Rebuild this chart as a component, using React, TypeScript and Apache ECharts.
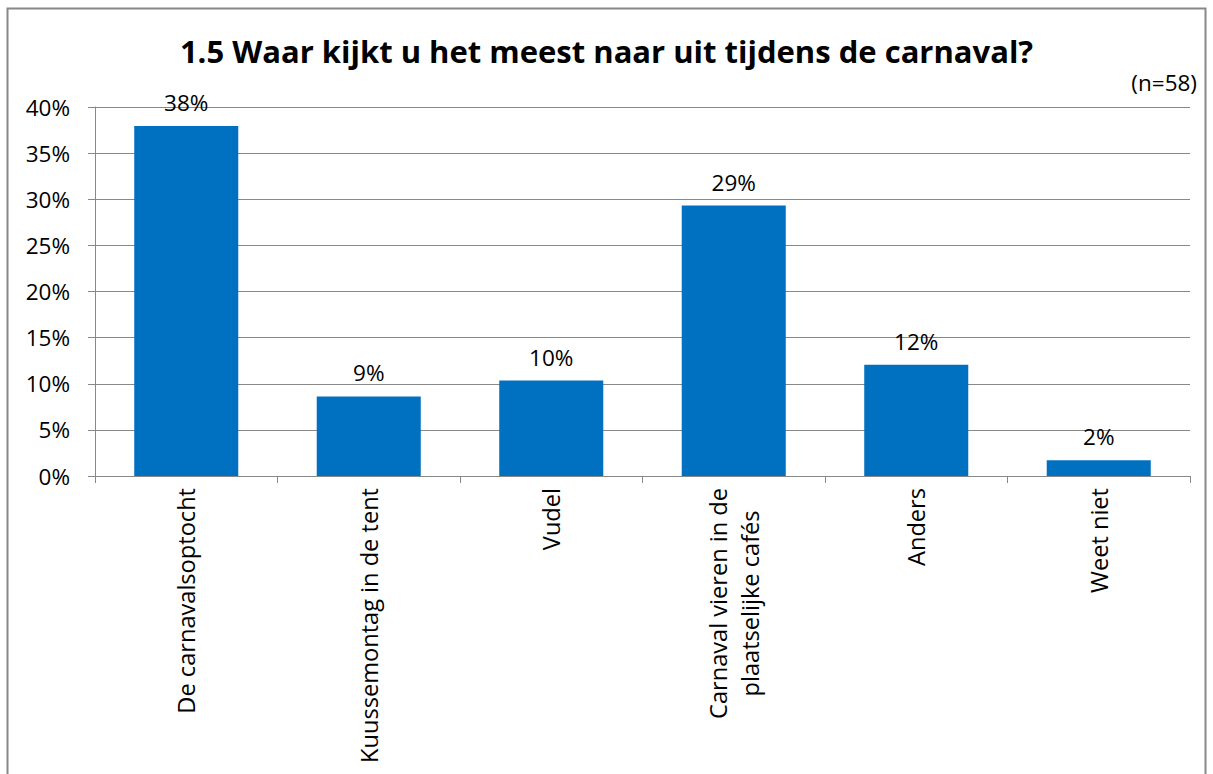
import React, { useEffect, useRef } from "react";
import * as echarts from "echarts";

const categories = [
  "De carnavalsoptocht",
  "Kuussemontag in de tent",
  "Vudel",
  "Carnaval vieren in de\nplaatselijke cafés",
  "Anders",
  "Weet niet",
];
const values = [37.93, 8.62, 10.34, 29.31, 12.07, 1.72];
const yTicks = [0, 5, 10, 15, 20, 25, 30, 35, 40];
const title = "1.5 Waar kijkt u het meest naar uit tijdens de carnaval?";
const note = "(n=58)";

const FONT = "'Open Sans', 'Noto Sans', sans-serif";
const FS = 22.5;
const FSX = 23.6;

export default function App() {
  const ref = useRef<HTMLDivElement>(null);
  useEffect(() => {
    if (!ref.current) return;
    const chart = echarts.init(ref.current, null, { renderer: "svg" });
    chart.setOption({
      animation: false,
      backgroundColor: "#ffffff",
      textStyle: { fontFamily: FONT },
      title: {
        text: title,
        left: "center",
        top: 30,
        textStyle: { fontSize: 31, fontWeight: "bold", color: "#000", fontFamily: FONT },
      },
      graphic: [
        {
          type: "rect",
          shape: { x: 7.5, y: 8.5, width: 1198, height: 800 },
          style: { fill: "none", stroke: "#888888", lineWidth: 2 },
          silent: true,
        },
        {
          type: "text",
          right: 16,
          top: 71,
          style: { text: note, fontSize: FS, fill: "#000", fontFamily: FONT },
        },
      ],
      grid: { left: 95, right: 23, top: 107, bottom: 298, containLabel: false },
      xAxis: {
        type: "category",
        data: categories,
        axisLine: { lineStyle: { color: "#888888", width: 1 } },
        axisTick: { show: true, length: 7, lineStyle: { color: "#888888" } },
        axisLabel: {
          rotate: 90,
          interval: 0,
          color: "#000",
          margin: 12,
          fontFamily: FONT,
          fontSize: FSX,
          formatter: (v: string) =>
            v
              .split("\n")
              .map((s) => `{c|${s}}`)
              .join("\n"),
          rich: {
            c: {
              align: "center",
              fontSize: FSX,
              lineHeight: 32,
              color: "#000",
              fontFamily: FONT,
            },
          },
        },
      },
      yAxis: {
        type: "value",
        min: yTicks[0],
        max: yTicks[yTicks.length - 1],
        interval: 5,
        axisLine: { show: true, lineStyle: { color: "#888888", width: 1 } },
        axisTick: { show: true, length: 7, lineStyle: { color: "#888888" } },
        splitLine: { show: true, lineStyle: { color: "#888888", width: 1 } },
        axisLabel: {
          fontSize: FS,
          color: "#000",
          margin: 25,
          formatter: (v: number) => `${v}%`,
          fontFamily: FONT,
        },
      },
      series: [
        {
          type: "bar",
          data: values,
          barCategoryGap: "43%",
          itemStyle: { color: "#0070C0" },
          label: {
            show: true,
            position: "top",
            distance: 12,
            fontSize: FS,
            color: "#000",
            fontFamily: FONT,
            formatter: (p: any) => `${Math.round(p.value)}%`,
          },
        },
      ],
    });
    return () => chart.dispose();
  }, []);
  return (
    <div
      ref={ref}
      style={{ position: "absolute", left: 0, top: 0, width: 1213, height: 774 }}
    />
  );
}
